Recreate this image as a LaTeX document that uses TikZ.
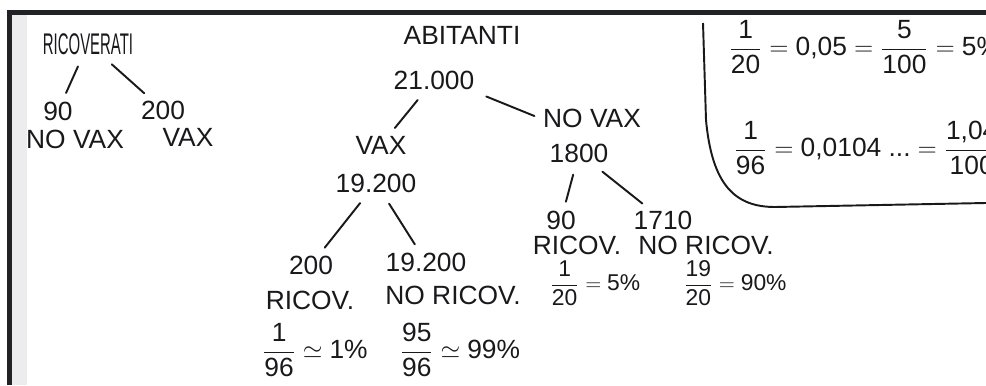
\documentclass[tikz,border=0pt]{standalone}
\usepackage{amsmath}
\usepackage{fontspec}
\setmainfont{Liberation Sans}
\usepackage{tikz}
\usetikzlibrary{calc}
\definecolor{ink}{RGB}{25,25,28}
\definecolor{edgedark}{RGB}{32,34,38}
\definecolor{paper}{RGB}{236,236,238}

\begin{document}
\begin{tikzpicture}[x=0.02cm, y=-0.02cm,
  lbl/.style={font=\fontsize{15}{17}\selectfont, text=ink, inner sep=2pt},
  branch/.style={ink, line width=1.1pt, line cap=round, shorten <=5pt, shorten >=3pt}]
  \useasboundingbox (0,0) rectangle (986,385);
  \clip (0,0) rectangle (986,385);
  % paper edge
  \fill[paper] (12,15) rectangle (27,385);
  \draw[edgedark, line width=0.1cm] (9.5,385) -- (9.5,12.5) -- (986,12.5);

  % ricoverati
  \node[lbl, font=\fontsize{17}{19}\selectfont] (ricov) at (88,44) {\scalebox{0.5}[1]{RICOVERATI}};
  \node[lbl] (r90) at (58,111) {90};
  \node[lbl] (rnovax) at (75,139) {NO VAX};
  \node[lbl] (r200) at (163,110) {200};
  \node[lbl] (rvax) at (188,137) {VAX};
  \draw[branch] (ricov) -- (r90);
  \draw[branch] (ricov.-40) -- (r200);

  % abitanti
  \node[lbl] (abit) at (462,35) {ABITANTI};
  \node[lbl] (tot) at (434,80) {21.000};
  \node[lbl] (vax) at (381,145) {VAX};
  \node[lbl] (vaxn) at (376,183) {19.200};
  \node[lbl] (novax) at (592,118) {NO VAX};
  \node[lbl] (novaxn) at (579,153) {1800};
  \draw[branch] (tot) -- (vax);
  \draw[branch] (tot.south east) -- (novax.west);

  % vax
  \node[lbl] (vr) at (311,265) {200};
  \node[lbl] (vrl) at (310,300) {RICOV.};
  \node[lbl] (vrf) at (315,350) {$\dfrac{\text{1}}{\text{96}}\simeq\text{1\%}$};
  \node[lbl] (vn) at (426,262) {19.200};
  \node[lbl] (vnl) at (453,295) {NO RICOV.};
  \node[lbl] (vnf) at (460,350) {$\dfrac{\text{95}}{\text{96}}\simeq\text{99\%}$};
  \draw[branch] (vaxn) -- (vr);
  \draw[branch] (vaxn) -- (vn);

  % no vax
  \node[lbl] (nr) at (561,220) {90};
  \node[lbl] (nrl) at (577,245) {RICOV.};
  \node[lbl, font=\fontsize{13}{15}\selectfont] (nrf) at (595,283) {$\dfrac{\text{1}}{\text{20}}=\text{5\%}$};
  \node[lbl] (nn) at (663,220) {1710};
  \node[lbl] (nnl) at (706,245) {NO RICOV.};
  \node[lbl, font=\fontsize{13}{15}\selectfont] (nnf) at (735,283) {$\dfrac{\text{19}}{\text{20}}=\text{90\%}$};
  \draw[branch] (novaxn) -- (nr);
  \draw[branch] (novaxn) -- (nn);

  % calcoli
  \draw[ink, line width=1.1pt] (703,23) -- (706,120) .. controls (712,185) and (735,207) .. (775,207) -- (986,203);
  \node[lbl, anchor=west] (eqa) at (725,47) {$\dfrac{\text{1}}{\text{20}}=\text{0,05}=\dfrac{\text{5}}{\text{100}}=\text{5\%}$};
  \node[lbl, anchor=west] (eqb) at (730,148) {$\dfrac{\text{1}}{\text{96}}=\text{0,0104 ...}=\dfrac{\text{1,04}}{\text{100}}$};
\end{tikzpicture}
\end{document}
